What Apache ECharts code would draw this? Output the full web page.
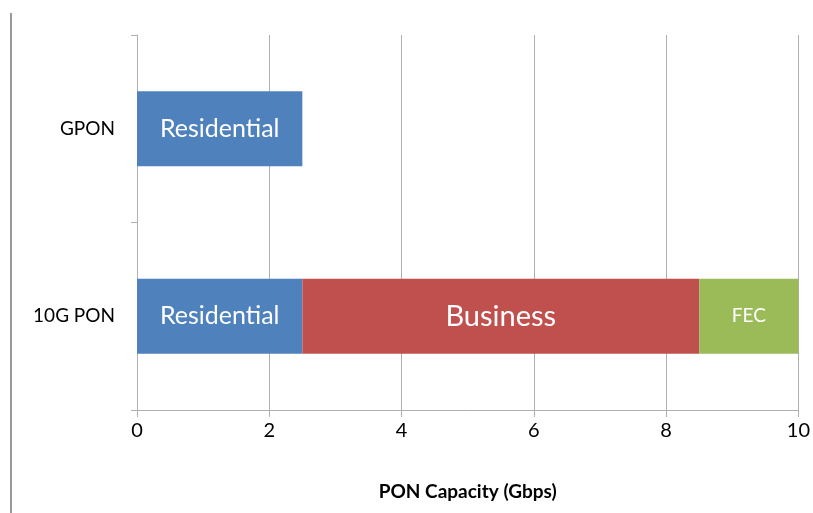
<!DOCTYPE html>
<html>
<head>
<meta charset="utf-8">
<script src="https://cdn.jsdelivr.net/npm/echarts@6/dist/echarts.min.js"></script>
<style>html,body{margin:0;padding:0;background:#fff}#c{width:813px;height:513px}</style>
</head>
<body>
<div id="c"></div>
<script>
const categories = ['10G PON', 'GPON'];
const residential = [2.5, 2.5];
const business = [6, '-'];
const fec = [1.5, '-'];
const xTicks = { min: 0, max: 10, interval: 2 };

const FONT = 'Lato, "Open Sans", sans-serif';
const chart = echarts.init(document.getElementById('c'), null, { renderer: 'canvas' });
function lab(size) {
  return { show: true, position: 'inside', color: '#fff', fontSize: size, fontFamily: FONT,
    formatter: p => p.seriesName };
}
chart.setOption({
  animation: false,
  backgroundColor: '#fff',
  grid: { left: 137, right: 14, top: 35, bottom: 103, containLabel: false },
  graphic: [{ type: 'line', shape: { x1: 11, y1: 13, x2: 11, y2: 513 }, style: { stroke: '#999', lineWidth: 2 } }],
  xAxis: {
    type: 'value', min: xTicks.min, max: xTicks.max, interval: xTicks.interval,
    name: 'PON Capacity (Gbps)', nameLocation: 'middle', nameGap: 72,
    nameTextStyle: { fontSize: 19, fontWeight: 'bold', color: '#000', fontFamily: FONT },
    axisLine: { show: true, lineStyle: { color: '#b0b0b0', width: 1 } },
    axisTick: { show: true, length: 7, lineStyle: { color: '#b0b0b0' } },
    axisLabel: { fontSize: 20, color: '#000', margin: 11, fontFamily: FONT },
    splitLine: { show: true, lineStyle: { color: '#b0b0b0', width: 1 } }
  },
  yAxis: {
    type: 'category', data: categories,
    axisLine: { show: true, lineStyle: { color: '#b0b0b0', width: 1 } },
    axisTick: { show: true, length: 6, lineStyle: { color: '#b0b0b0' } },
    axisLabel: { fontSize: 19, color: '#000', margin: 22, fontFamily: FONT }
  },
  series: [
    { name: 'Residential', type: 'bar', stack: 's', data: residential, barWidth: 75,
      itemStyle: { color: '#4F81BD' }, label: lab(25) },
    { name: 'Business', type: 'bar', stack: 's', data: business, barWidth: 75,
      itemStyle: { color: '#C0504D' }, label: lab(29) },
    { name: 'FEC', type: 'bar', stack: 's', data: fec, barWidth: 75,
      itemStyle: { color: '#9BBB59' }, label: lab(19) }
  ]
});
</script>
</body>
</html>
